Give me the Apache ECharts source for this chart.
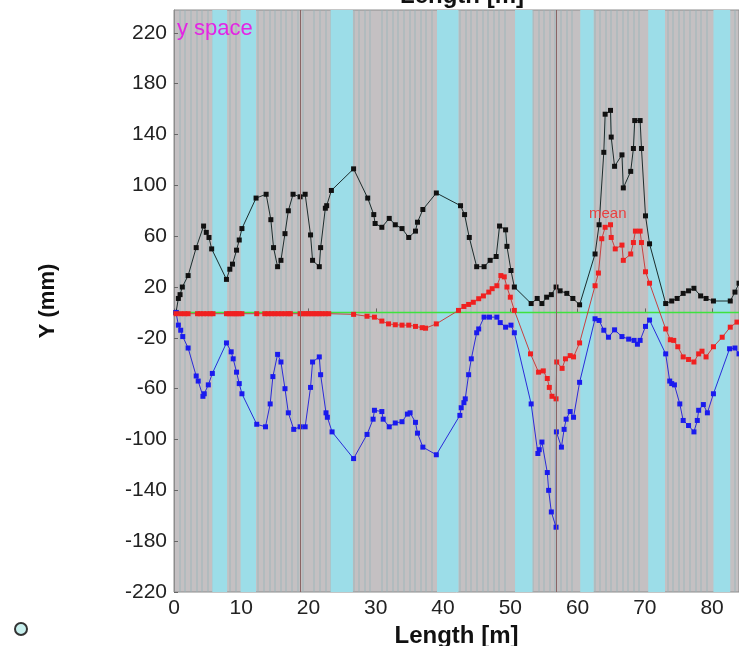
<!DOCTYPE html>
<html>
<head>
<meta charset="utf-8">
<script src="https://cdn.jsdelivr.net/npm/echarts@6/dist/echarts.min.js"></script>
<style>
  html, body { margin: 0; padding: 0; background: #fff; }
  #chart { width: 739px; height: 646px; }
</style>
</head>
<body>
<div id="chart"></div>
<script>
// upper envelope (black)
const upperPts = [
  [0.3, 0], [0.65, 11], [0.9, 14], [1.24, 20], [2.1, 29], [3.3, 51], [4.4, 68], [4.8, 63], [5.2, 59], [5.6, 50],
  [7.8, 26], [8.3, 34], [8.7, 38], [9.3, 49], [9.7, 57], [10.1, 66], [12.2, 90], [13.7, 93], [14.4, 73], [14.8, 51],
  [15.4, 36], [15.9, 41], [16.5, 62], [17.0, 80], [17.7, 93], [18.75, 91], [19.5, 93], [20.3, 61], [20.6, 41], [21.6, 36],
  [21.8, 51], [22.5, 82], [22.7, 84], [23.4, 96], [26.7, 113], [28.8, 90], [29.7, 77], [29.9, 70], [30.9, 67], [32.0, 74],
  [32.9, 69], [33.9, 66], [34.9, 59], [35.9, 64], [36.2, 71], [37.0, 81], [39.0, 94], [42.6, 84], [43.2, 77], [43.9, 59],
  [45.0, 36], [46.1, 36], [47.0, 41], [47.9, 44], [48.4, 68], [49.3, 65], [49.5, 52], [50.1, 33], [50.6, 20], [53.1, 7],
  [54.0, 11], [54.7, 7], [55.4, 12], [56.1, 14], [56.8, 20], [57.4, 17], [58.4, 15], [59.3, 11], [60.3, 6], [62.6, 46],
  [63.2, 69], [63.9, 126], [64.1, 156], [64.9, 159], [65.0, 138], [65.5, 115], [66.6, 124], [66.8, 98], [67.9, 111], [68.3, 129],
  [68.5, 151], [69.3, 151], [69.5, 129], [70.1, 76], [70.7, 54], [73.1, 7], [74.0, 9], [74.8, 11], [75.7, 15], [76.5, 17],
  [77.3, 19], [78.3, 13], [79.1, 11], [80.2, 9], [82.7, 9], [83.4, 16], [84, 23]
]
// mean (red)
const meanPts = [
  [0.3, -1], [1.0, -1], [1.6, -1], [2.1, -1], [3.5, -1], [3.9, -1], [4.4, -1], [4.9, -1], [5.4, -1], [5.8, -1],
  [7.8, -1], [8.2, -1], [8.6, -1], [9.0, -1], [9.3, -1], [9.7, -1], [10.1, -1], [12.3, -1], [13.5, -1], [14.0, -1],
  [14.5, -1], [15.0, -1], [15.5, -1], [16.0, -1], [16.5, -1], [17.0, -1], [17.3, -1], [18.75, -1], [19.2, -1], [19.6, -1],
  [20.0, -1], [20.4, -1], [20.8, -1], [21.2, -1], [21.6, -1], [22.0, -1], [22.5, -1], [23.0, -1], [26.7, -1.5], [28.7, -3],
  [29.8, -3.7], [30.9, -6.8], [31.9, -9], [32.9, -9.7], [33.9, -10], [34.9, -10], [35.9, -11], [36.9, -12], [37.4, -12.4], [39.0, -9],
  [42.3, 1.6], [43.1, 4.7], [43.8, 6.3], [44.5, 8], [45.3, 10.8], [46.0, 13], [46.8, 16], [47.3, 18.7], [48.0, 21], [48.6, 29],
  [49.1, 28], [49.5, 20], [50.0, 12], [50.6, 1.6], [53.0, -32.6], [54.2, -47], [54.9, -46], [55.5, -52], [55.8, -59], [56.2, -66],
  [56.8, -68], [56.9, -39], [57.7, -44], [58.2, -36.5], [58.9, -34], [59.4, -35], [60.3, -24], [62.6, 21], [63.1, 31], [63.6, 58],
  [64.1, 67], [64.9, 69], [65.0, 59], [65.6, 50], [66.6, 53], [66.8, 41], [67.9, 46], [68.3, 55], [68.6, 64], [69.3, 64],
  [69.5, 55], [70.1, 32], [70.7, 23], [73.1, -13], [73.8, -21.5], [74.3, -22], [74.9, -27], [75.7, -35], [76.5, -37], [77.3, -39],
  [78.0, -32.6], [78.5, -30.5], [79.1, -35], [80.2, -27], [81.5, -19.5], [82.7, -11.6], [83.7, -7.6]
]
// lower envelope (blue)
const lowerPts = [
  [0.3, 0], [0.65, -10], [1.0, -14], [1.3, -19], [2.1, -28], [3.3, -50], [3.6, -54], [4.3, -66], [4.5, -64], [5.1, -57],
  [5.7, -48], [7.8, -24], [8.5, -31], [8.8, -36.5], [9.3, -47], [9.7, -56], [10.1, -64], [12.3, -88], [13.6, -90], [14.3, -72],
  [14.7, -50.5], [15.4, -33], [15.9, -39], [16.5, -60], [17.0, -79], [17.8, -92], [18.75, -90], [19.5, -90], [20.3, -59], [20.6, -39],
  [21.6, -35], [21.8, -49], [22.6, -79], [22.8, -82.5], [23.5, -94], [26.7, -115], [28.7, -96], [29.6, -84], [29.8, -77], [30.9, -78],
  [31.1, -84], [32.0, -90], [32.9, -87], [33.9, -86], [34.7, -80], [35.1, -79], [35.9, -86.5], [36.2, -95], [37.0, -106], [39.0, -112],
  [42.5, -81], [42.7, -75], [43.1, -71], [43.3, -68], [43.8, -49], [44.2, -36.5], [45.0, -16], [45.3, -13], [46.1, -3.7], [46.9, -3.7],
  [48.0, -3.7], [48.5, -8], [49.3, -11.6], [50.1, -10], [50.6, -16], [53.1, -72], [54.1, -111], [54.3, -108], [54.7, -102], [55.5, -126],
  [55.7, -140], [56.1, -157], [56.8, -169], [56.85, -94], [57.6, -106], [58.0, -92], [58.3, -84], [58.9, -78], [59.4, -82.5], [60.3, -55],
  [62.6, -5], [63.2, -6.3], [63.9, -14], [64.6, -19.5], [65.5, -13.7], [66.6, -19], [67.6, -21], [68.4, -22], [68.9, -25], [69.3, -22],
  [70.1, -11], [70.7, -6], [73.1, -32.6], [73.7, -54], [74.0, -56], [74.4, -57], [75.2, -72], [75.7, -85], [76.5, -89], [77.3, -94],
  [77.8, -85], [78.0, -77], [78.7, -72.5], [79.3, -79], [80.2, -64], [82.6, -28.6], [83.4, -28], [84, -32.6]
]
const zeroLine = [[0, 0], [84, 0]]
// cyan sections along the length [m]
const cyanBands = [[5.7, 7.9], [9.9, 12.2], [23.3, 26.6], [39.1, 42.3], [50.7, 53.3], [60.4, 62.4], [70.5, 73.0], [80.2, 82.7]]
const markerLines = [18.75, 56.8]

const font = 'Liberation Sans, Arial, sans-serif'

const chart = echarts.init(document.getElementById('chart'))
const option = {
  animation: false,
  backgroundColor: '#fff',
  grid: {
    left: 174,
    right: 0,
    top: 10,
    bottom: 54,
    outerBoundsMode: 'none',
    show: true,
    backgroundColor: '#c4c0c2',
    borderColor: '#8c8c8c',
    borderWidth: 1
  },
  xAxis: {
    type: 'value',
    min: 0,
    max: 84,
    interval: 10,
    name: 'Length [m]',
    nameLocation: 'middle',
    nameGap: 31,
    nameTextStyle: { fontFamily: font, fontSize: 24, fontWeight: 'bold', color: '#111' },
    axisLine: { show: true, lineStyle: { color: '#8c8c8c' } },
    axisTick: { show: true, inside: true, length: 4, lineStyle: { color: '#666' } },
    axisLabel: { fontFamily: font, fontSize: 21, color: '#222', margin: 6, showMaxLabel: false },
    splitLine: { show: false },
    minorTick: { show: false, splitNumber: 12 },
    minorSplitLine: { show: true, lineStyle: { color: 'rgba(150,180,186,0.4)', width: 2 } }
  },
  yAxis: {
    type: 'value',
    min: -220,
    max: 238,
    interval: 40,
    name: 'Y (mm)',
    nameLocation: 'middle',
    nameRotate: 90,
    nameGap: 115,
    nameTextStyle: { fontFamily: font, fontSize: 22, fontWeight: 'bold', color: '#111' },
    axisLine: { show: true, lineStyle: { color: '#8c8c8c' } },
    axisTick: { show: true, inside: true, length: 4, lineStyle: { color: '#666' } },
    axisLabel: { fontFamily: font, fontSize: 21, color: '#222', margin: 7, showMaxLabel: false },
    splitLine: { show: false }
  },
  series: [
    {
      name: 'bands',
      type: 'line',
      data: [],
      z: 1,
      silent: true,
      markArea: {
        silent: true,
        itemStyle: { color: '#9cdde8' },
        data: cyanBands.map(b => [{ xAxis: b[0] }, { xAxis: b[1] }])
      },
      markLine: {
        silent: true,
        symbol: 'none',
        label: { show: false },
        lineStyle: { color: '#8a6464', width: 1, type: 'solid' },
        data: markerLines.map(x => ({ xAxis: x }))
      }
    },
    {
      name: 'zero',
      type: 'line',
      data: zeroLine,
      z: 2,
      symbol: 'none',
      lineStyle: { color: '#3ee23e', width: 1.5 }
    },
    {
      name: 'upper',
      type: 'line',
      data: upperPts,
      z: 3,
      symbol: 'rect',
      symbolSize: 5,
      showAllSymbol: true,
      itemStyle: { color: '#111' },
      lineStyle: { color: '#1c2c2c', width: 1 }
    },
    {
      name: 'mean',
      type: 'line',
      data: meanPts,
      z: 4,
      symbol: 'rect',
      symbolSize: 5,
      showAllSymbol: true,
      itemStyle: { color: '#f02020' },
      lineStyle: { color: '#c84040', width: 1 }
    },
    {
      name: 'lower',
      type: 'line',
      data: lowerPts,
      z: 3,
      symbol: 'rect',
      symbolSize: 5,
      showAllSymbol: true,
      itemStyle: { color: '#1a1aee' },
      lineStyle: { color: '#2a2ad8', width: 1 }
    }
  ],
  graphic: [
    {
      type: 'text',
      left: 400,
      top: -16,
      z: 100,
      style: { text: 'Length [m]', font: 'bold 24px ' + font, fill: '#111' }
    },
    {
      type: 'text',
      left: 177,
      top: 18,
      z: 100,
      style: { text: 'y space', font: '22px ' + font, fill: '#e424e4' }
    },
    {
      type: 'text',
      left: 589,
      top: 206,
      z: 100,
      style: { text: 'mean', font: '15px ' + font, fill: '#e84040' }
    },
    {
      type: 'circle',
      left: 14,
      top: 622,
      z: 100,
      shape: { r: 6 },
      style: { fill: '#c8f0ee', stroke: '#333', lineWidth: 2 }
    }
  ]
}
chart.setOption(option)
</script>
</body>
</html>
